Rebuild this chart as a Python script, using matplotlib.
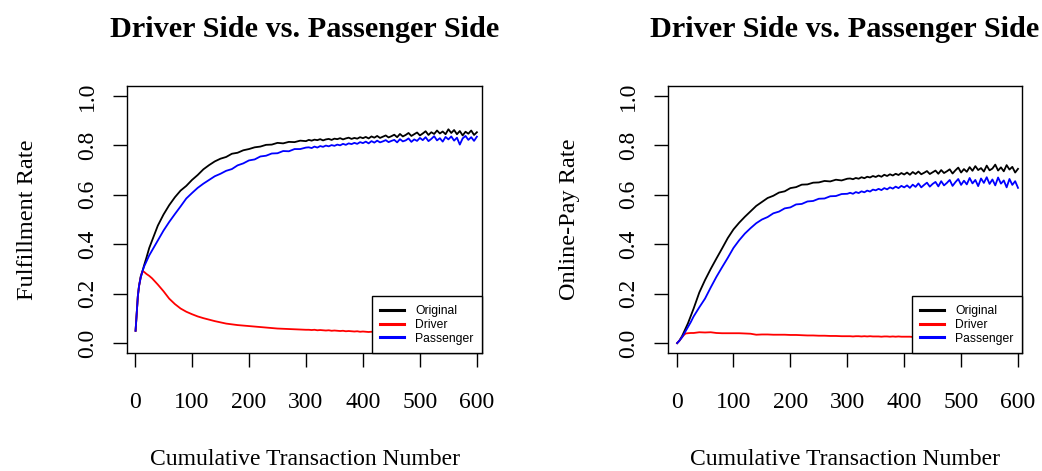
import matplotlib
matplotlib.use('Agg')
import matplotlib.pyplot as plt

plt.rcParams['font.family'] = 'Liberation Serif'

# cumulative transaction number (shared x grid)
txn = [1, 3, 5, 7, 10, 13, 16, 20, 25, 30] + list(range(40, 301, 10)) + list(range(305, 601, 5))

# left panel: fulfillment rate
ful_orig = [
    0.05, 0.12, 0.19, 0.23, 0.27, 0.29, 0.315, 0.345, 0.385, 0.415,
    0.475, 0.52, 0.558, 0.59, 0.617, 0.636, 0.66, 0.68, 0.703, 0.72,
    0.735, 0.746, 0.753, 0.766, 0.770, 0.780, 0.785, 0.792, 0.795, 0.802,
    0.803, 0.810, 0.808, 0.814, 0.813, 0.819, 0.817,
    0.822, 0.819, 0.823, 0.821, 0.825, 0.820, 0.824, 0.826, 0.822, 0.827,
    0.825, 0.829, 0.824, 0.828, 0.831, 0.826, 0.830, 0.827, 0.833, 0.829,
    0.834, 0.828, 0.836, 0.831, 0.838, 0.830, 0.835, 0.840, 0.832, 0.837,
    0.843, 0.833, 0.846, 0.836, 0.842, 0.850, 0.838, 0.845, 0.852, 0.840,
    0.848, 0.857, 0.842, 0.853, 0.846, 0.860, 0.848, 0.856, 0.845, 0.865,
    0.850, 0.862, 0.845, 0.858, 0.840, 0.855, 0.847, 0.860, 0.842, 0.853,
]
ful_driver = [
    0.05, 0.12, 0.19, 0.23, 0.265, 0.29, 0.288, 0.28, 0.272, 0.262,
    0.237, 0.21, 0.18, 0.158, 0.140, 0.127, 0.117, 0.108, 0.101, 0.095,
    0.089, 0.084, 0.079, 0.076, 0.073, 0.071, 0.069, 0.067, 0.065, 0.063,
    0.061, 0.059, 0.058, 0.057, 0.056, 0.055, 0.054,
    0.054, 0.053, 0.054, 0.052, 0.053, 0.052, 0.051, 0.052, 0.050, 0.051,
    0.050, 0.049, 0.050, 0.048, 0.049, 0.048, 0.047, 0.048, 0.046, 0.047,
    0.046, 0.045, 0.046, 0.044, 0.045, 0.044, 0.043, 0.044, 0.042, 0.043,
    0.042, 0.041, 0.042, 0.040, 0.041, 0.040, 0.041, 0.039, 0.040, 0.039,
    0.040, 0.038, 0.039, 0.038, 0.039, 0.037, 0.038, 0.037, 0.038, 0.037,
    0.037, 0.036, 0.037, 0.036, 0.037, 0.035, 0.036, 0.035, 0.036, 0.035,
]
ful_pass = [
    0.05, 0.12, 0.19, 0.23, 0.265, 0.29, 0.31, 0.33, 0.355, 0.375,
    0.415, 0.455, 0.49, 0.522, 0.553, 0.585, 0.607, 0.628, 0.645, 0.66,
    0.675, 0.685, 0.697, 0.704, 0.719, 0.727, 0.739, 0.743, 0.755, 0.758,
    0.767, 0.768, 0.777, 0.776, 0.785, 0.785, 0.791,
    0.792, 0.789, 0.795, 0.791, 0.797, 0.794, 0.799, 0.796, 0.801, 0.798,
    0.803, 0.800, 0.806, 0.802, 0.808, 0.805, 0.810, 0.806, 0.813, 0.809,
    0.815, 0.808, 0.817, 0.811, 0.819, 0.812, 0.816, 0.821, 0.813, 0.818,
    0.822, 0.812, 0.825, 0.816, 0.820, 0.828, 0.814, 0.824, 0.818, 0.830,
    0.821, 0.833, 0.817, 0.826, 0.837, 0.820, 0.829, 0.815, 0.834, 0.824,
    0.836, 0.819, 0.831, 0.803, 0.828, 0.838, 0.822, 0.833, 0.818, 0.835,
]

# right panel: online-pay rate
pay_orig = [
    0.0, 0.005, 0.01, 0.018, 0.03, 0.045, 0.06, 0.08, 0.11, 0.14,
    0.205, 0.255, 0.300, 0.342, 0.383, 0.425, 0.460, 0.487, 0.511, 0.533,
    0.555, 0.571, 0.587, 0.596, 0.609, 0.614, 0.627, 0.631, 0.641, 0.642,
    0.649, 0.650, 0.656, 0.654, 0.661, 0.658, 0.665,
    0.666, 0.663, 0.668, 0.665, 0.671, 0.667, 0.673, 0.670, 0.676, 0.672,
    0.678, 0.673, 0.681, 0.676, 0.683, 0.678, 0.685, 0.680, 0.688, 0.682,
    0.690, 0.681, 0.692, 0.684, 0.694, 0.683, 0.689, 0.696, 0.684, 0.691,
    0.698, 0.685, 0.700, 0.688, 0.695, 0.703, 0.686, 0.699, 0.710, 0.690,
    0.704, 0.693, 0.712, 0.697, 0.716, 0.700, 0.708, 0.694, 0.718, 0.699,
    0.706, 0.722, 0.698, 0.711, 0.695, 0.720, 0.702, 0.713, 0.690, 0.705,
]
pay_driver = [
    0.0, 0.005, 0.01, 0.016, 0.025, 0.033, 0.039, 0.040, 0.041, 0.041,
    0.044, 0.043, 0.044, 0.041, 0.040, 0.040, 0.040, 0.040, 0.039, 0.038,
    0.034, 0.035, 0.035, 0.034, 0.034, 0.034, 0.033, 0.033, 0.032, 0.031,
    0.031, 0.030, 0.030, 0.029, 0.029, 0.028, 0.028,
    0.028, 0.027, 0.028, 0.028, 0.027, 0.028, 0.027, 0.028, 0.027, 0.027,
    0.027, 0.026, 0.027, 0.027, 0.026, 0.027, 0.026, 0.027, 0.026, 0.026,
    0.026, 0.026, 0.025, 0.026, 0.026, 0.025, 0.026, 0.025, 0.026, 0.025,
    0.025, 0.025, 0.024, 0.025, 0.025, 0.024, 0.025, 0.024, 0.025, 0.024,
    0.024, 0.024, 0.023, 0.024, 0.024, 0.023, 0.024, 0.023, 0.024, 0.023,
    0.023, 0.023, 0.022, 0.023, 0.023, 0.022, 0.023, 0.022, 0.023, 0.022,
]
pay_pass = [
    0.0, 0.005, 0.01, 0.016, 0.025, 0.037, 0.049, 0.065, 0.085, 0.108,
    0.145, 0.18, 0.225, 0.268, 0.307, 0.345, 0.385, 0.416, 0.443, 0.465,
    0.485, 0.500, 0.510, 0.525, 0.532, 0.545, 0.549, 0.561, 0.563, 0.573,
    0.575, 0.584, 0.585, 0.594, 0.595, 0.603, 0.604,
    0.608, 0.604, 0.611, 0.607, 0.614, 0.610, 0.617, 0.613, 0.621, 0.618,
    0.624, 0.619, 0.627, 0.622, 0.630, 0.625, 0.633, 0.627, 0.636, 0.630,
    0.638, 0.628, 0.641, 0.632, 0.646, 0.630, 0.640, 0.649, 0.633, 0.644,
    0.652, 0.634, 0.655, 0.638, 0.648, 0.660, 0.636, 0.651, 0.664, 0.640,
    0.657, 0.642, 0.668, 0.646, 0.660, 0.635, 0.666, 0.648, 0.671, 0.644,
    0.662, 0.638, 0.670, 0.645, 0.658, 0.630, 0.664, 0.640, 0.655, 0.628,
]

title = "Driver Side vs. Passenger Side"
series_labels = ["Original", "Driver", "Passenger"]
yticks = [0.0, 0.2, 0.4, 0.6, 0.8, 1.0]
xticks = [0, 100, 200, 300, 400, 500, 600]

fig = plt.figure(figsize=(10.42, 4.71), dpi=100)

panels = [
    ([0.1219, 0.2505, 0.3407, 0.5669], "Fulfillment Rate", (ful_orig, ful_driver, ful_pass), (-14, 609)),
    ([0.6411, 0.2505, 0.3397, 0.5669], "Online-Pay Rate", (pay_orig, pay_driver, pay_pass), (-15, 607)),
]

for rect, ylabel, (orig, drv, pas), xlim in panels:
    ax = fig.add_axes(rect)
    ax.plot(txn, orig, color='black', linewidth=1.3, label=series_labels[0])
    ax.plot(txn, drv, color='red', linewidth=1.3, label=series_labels[1])
    ax.plot(txn, pas, color='blue', linewidth=1.3, label=series_labels[2])
    ax.set_xlim(*xlim)
    ax.set_ylim(-0.04, 1.04)
    ax.set_xticks(xticks)
    ax.set_yticks(yticks, [f"{v:.1f}" for v in yticks])
    for lab in ax.get_yticklabels():
        lab.set_rotation(90)
        lab.set_va('center')
    ax.tick_params(axis='both', length=10, width=1, labelsize=17)
    ax.tick_params(axis='x', pad=18)
    ax.tick_params(axis='y', pad=11)
    for sp in ax.spines.values():
        sp.set_linewidth(1)
    ax.set_title(title, fontsize=21.8, fontweight='bold', pad=35)
    ax.set_xlabel("Cumulative Transaction Number", fontsize=17)
    ax.set_ylabel(ylabel, fontsize=17.5)
    ax.xaxis.set_label_coords(0.5, -0.361)
    ax.yaxis.set_label_coords(-0.25, 0.5)
    leg = ax.legend(loc='lower right', bbox_to_anchor=(1, 0), borderaxespad=0,
                    prop={'family': 'Liberation Sans', 'size': 8.7},
                    fancybox=False, framealpha=1, edgecolor='black',
                    handlelength=2.0, handletextpad=0.9, labelspacing=0.15,
                    borderpad=0.7)
    leg.get_frame().set_linewidth(1)
    for ln in leg.get_lines():
        ln.set_linewidth(2.2)

fig.savefig("out.png", dpi=100)
